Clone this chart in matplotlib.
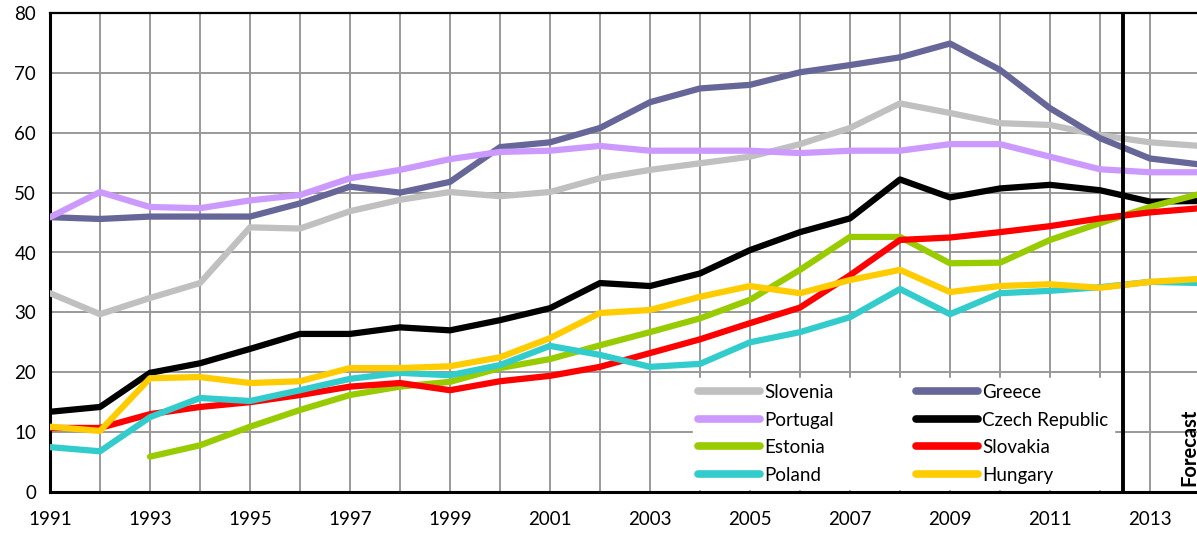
import matplotlib
matplotlib.use("Agg")
import matplotlib.pyplot as plt
from matplotlib.ticker import MultipleLocator

plt.rcParams['font.family'] = ['Lato', 'DejaVu Sans']

years = list(range(1991, 2015))
years_est = list(range(1993, 2015))

slovenia = [33.2, 29.7, 32.4, 34.9, 44.2, 44.0, 46.9, 48.8, 50.1, 49.4, 50.1, 52.4, 53.8, 54.9,
            56.0, 58.1, 60.8, 64.9, 63.3, 61.6, 61.3, 59.6, 58.4, 57.8]
greece = [45.9, 45.6, 46.0, 46.0, 46.0, 48.2, 51.0, 50.0, 51.8, 57.6, 58.4, 60.8, 65.1, 67.4,
          68.0, 70.1, 71.3, 72.6, 74.9, 70.5, 64.1, 59.1, 55.7, 54.7]
portugal = [45.9, 50.1, 47.6, 47.4, 48.7, 49.6, 52.4, 53.8, 55.6, 56.8, 57.0, 57.8, 57.0, 57.0,
            57.0, 56.6, 57.0, 57.0, 58.1, 58.1, 56.0, 53.9, 53.4, 53.4]
czech = [13.4, 14.2, 19.9, 21.5, 23.9, 26.4, 26.4, 27.5, 27.0, 28.7, 30.7, 34.9, 34.4, 36.5,
         40.4, 43.4, 45.7, 52.2, 49.2, 50.7, 51.3, 50.4, 48.5, 48.6]
estonia = [5.9, 7.8, 10.9, 13.7, 16.2, 17.6, 18.4, 20.7, 22.2, 24.5, 26.7, 29.0,
           32.1, 37.1, 42.6, 42.6, 38.2, 38.3, 42.1, 44.9, 47.6, 49.8]
slovakia = [10.7, 10.7, 13.0, 14.2, 15.0, 16.2, 17.6, 18.2, 17.0, 18.5, 19.4, 20.9, 23.2, 25.5,
            28.2, 30.8, 36.2, 42.1, 42.5, 43.4, 44.4, 45.7, 46.7, 47.4]
poland = [7.5, 6.8, 12.5, 15.7, 15.2, 17.0, 18.9, 19.9, 19.5, 21.2, 24.4, 22.9, 20.9, 21.4,
          25.0, 26.7, 29.2, 33.9, 29.7, 33.2, 33.6, 34.2, 35.1, 34.9]
hungary = [10.9, 10.2, 19.0, 19.2, 18.2, 18.5, 20.7, 20.7, 21.0, 22.5, 25.7, 29.9, 30.4, 32.6,
           34.4, 33.2, 35.4, 37.1, 33.4, 34.4, 34.7, 34.1, 35.1, 35.6]

x_tick_labels = [str(y) for y in range(1991, 2014, 2)]
forecast_start = 2012.45

fig = plt.figure(figsize=(11.97, 5.34), dpi=100)
ax = fig.add_axes([50 / 1197, 42 / 534, 1150 / 1197, 479 / 534])

series = [
    ("Slovenia", years, slovenia, "#C0C0C0"),
    ("Greece", years, greece, "#666699"),
    ("Portugal", years, portugal, "#CC99FF"),
    ("Czech Republic", years, czech, "#000000"),
    ("Estonia", years_est, estonia, "#99CC00"),
    ("Slovakia", years, slovakia, "#FF0000"),
    ("Poland", years, poland, "#33CCCC"),
    ("Hungary", years, hungary, "#FFCC00"),
]
handles = {}
for i, (name, xs, ys, c) in enumerate(series):
    h, = ax.plot(xs, ys, color=c, lw=4.5, solid_capstyle='round', solid_joinstyle='round',
                 label=name, zorder=3 + i * 0.01)
    handles[name] = h

ax.axvline(forecast_start, color='black', lw=2.8, zorder=5)

ax.set_xlim(1991, 2014)
ax.set_ylim(0, 80)
ax.set_xticks(list(range(1991, 2014, 2)))
ax.set_xticklabels(x_tick_labels)
ax.set_xticks(list(range(1992, 2015, 2)), minor=True)
ax.yaxis.set_major_locator(MultipleLocator(10))
ax.grid(True, which='both', color='#999999', lw=1.4, zorder=0)
ax.set_axisbelow(True)
ax.tick_params(axis='both', which='both', length=0, labelsize=13.5)
ax.tick_params(axis='x', pad=14)
ax.tick_params(axis='y', pad=10)

for s in ['left', 'bottom']:
    ax.spines[s].set_linewidth(2.2)
    ax.spines[s].set_color('black')
ax.spines['top'].set_linewidth(1.6)
ax.spines['top'].set_color('black')
ax.spines['right'].set_visible(False)

order = ["Slovenia", "Portugal", "Estonia", "Poland", "Greece", "Czech Republic", "Slovakia", "Hungary"]
leg = ax.legend([handles[n] for n in order], order, ncol=2, loc='lower left',
                bbox_to_anchor=(0.559, 0.006), fontsize=13.5, frameon=True, fancybox=False,
                framealpha=1, facecolor='white', edgecolor='white', handlelength=3.3,
                handletextpad=0.2, columnspacing=4.4, labelspacing=0.56, borderpad=0.3,
                borderaxespad=0)
leg.set_zorder(4)
for h in leg.legend_handles:
    h.set_linewidth(5.5)

ax.text(2013.78, 7.5, "Forecast", rotation=90, fontsize=14.5, fontweight='bold',
        ha='center', va='center', zorder=6)

fig.savefig("out.png", dpi=100)
